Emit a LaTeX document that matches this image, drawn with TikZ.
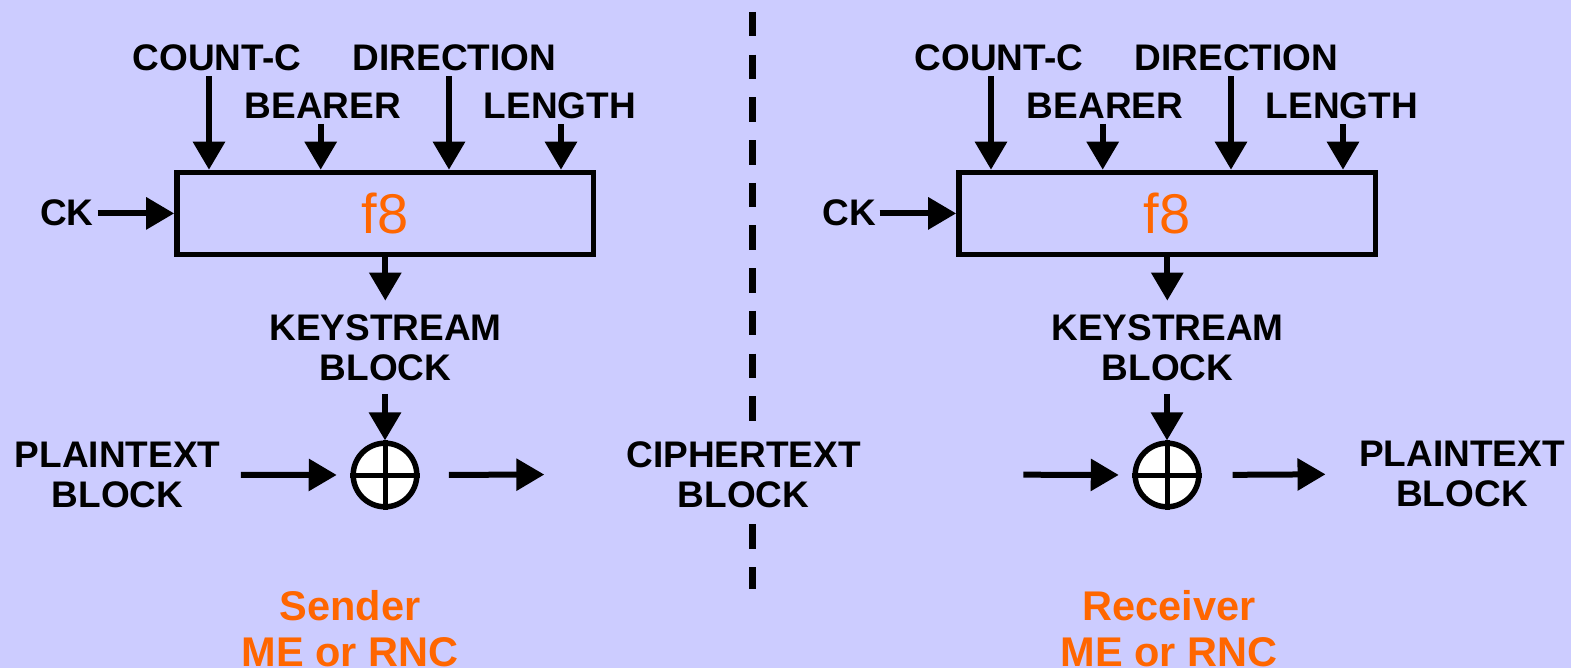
\documentclass[tikz,border=0pt]{standalone}
\usepackage{fontspec}
\setmainfont{Liberation Sans}
\usetikzlibrary{arrows.meta}
\definecolor{bgviolet}{HTML}{CCCCFF}
\definecolor{signal}{HTML}{FF6600}
\begin{document}
\begin{tikzpicture}[x=1pt,y=-1pt,
  lbl/.style={font=\fontsize{37}{40}\selectfont\bfseries, align=center,
    inner xsep=4pt, inner ysep=5pt, outer sep=0pt, anchor=base},
  role/.style={font=\fontsize{41.5}{46}\selectfont\bfseries, text=signal,
    align=center, anchor=base},
  arr/.style={line width=6pt, -{Triangle[width=31pt,length=28pt]}},
  f8box/.style={draw, line width=5.5pt, minimum width=416.7pt,
    minimum height=81.8pt, inner sep=0pt,
    font=\fontsize{56}{60}\selectfont, text=signal},
  xorop/.style={circle, draw, fill=white, line width=5.5pt,
    minimum size=63.6pt, inner sep=0pt},
  divider/.style={line width=7pt, dash pattern=on 24.5pt off 18.2pt}
]
% canvas
\fill[bgviolet] (0,0) rectangle (1571,668);
\useasboundingbox (0,0) rectangle (1571,668);

% sender / receiver divider
\coordinate (divtop) at (752.5,12);
\coordinate (divbot) at (752.5,589);
\draw[divider] (divtop) -- (divbot);
% (two-line nodes are placed by the baseline of their last line)
\node[lbl, fill=bgviolet] (ct) at (743.5,507) {CIPHERTEXT\\BLOCK};

% the two f8 keystream generators
\foreach \s/\dx in {L/0,R/782} {
  \node[f8box] (box\s) at (385.3+\dx,213.4) {f8};
  \node[lbl] (cnt\s) at (217+\dx,71) {COUNT-C};
  \node[lbl] (dir\s) at (454.5+\dx,71) {DIRECTION};
  \node[lbl] (bea\s) at (323+\dx,119) {BEARER};
  \node[lbl] (len\s) at (560+\dx,119) {LENGTH};
  \node[lbl] (ck\s) at (67+\dx,226) {CK};
  \node[lbl, inner ysep=13.5pt] (ks\s) at (385.5+\dx,380) {KEYSTREAM\\BLOCK};
  \node[xorop] (xor\s) at (385+\dx,475) {};
  \draw[line width=5pt] (xor\s.north) -- (xor\s.south)
                        (xor\s.west) -- (xor\s.east);

  \coordinate (xcnt\s) at (209+\dx,0);
  \coordinate (xbea\s) at (320.7+\dx,0);
  \coordinate (xdir\s) at (449+\dx,0);
  \coordinate (xlen\s) at (561+\dx,0);
  \draw[arr] (cnt\s.south -| xcnt\s) -- (box\s.north -| xcnt\s);
  \draw[arr] (bea\s.south -| xbea\s) -- (box\s.north -| xbea\s);
  \draw[arr] (dir\s.south -| xdir\s) -- (box\s.north -| xdir\s);
  \draw[arr] (len\s.south -| xlen\s) -- (box\s.north -| xlen\s);
  \draw[arr] (ck\s.east |- box\s.west) -- (box\s.west);
  \draw[arr] (box\s.south) -- (box\s.south |- ks\s.north);
  \draw[arr] (xor\s.north |- ks\s.south) -- (xor\s.north);
}

% data path
\node[lbl] (ptL) at (117.5,507.3) {PLAINTEXT\\BLOCK};
\node[lbl] (ptR) at (1462,506.7) {PLAINTEXT\\BLOCK};
\draw[arr, shorten <=16.7pt, shorten >=13.7pt] (ptL.east) -- (xorL.west);
\draw[arr, shorten <=29.4pt, shorten >=78pt] (xorL.east) -- (ct.west);
\draw[arr, shorten <=158.7pt, shorten >=13.7pt] (ct.east) -- (xorR.west);
\draw[arr, shorten <=31pt, shorten >=29.7pt] (xorR.east) -- (ptR.west);

% roles
\node[role] (snd) at (350,666) {Sender\\ME or RNC};
\node[role] (rcv) at (1169,666) {Receiver\\ME or RNC};
\end{tikzpicture}
\end{document}
